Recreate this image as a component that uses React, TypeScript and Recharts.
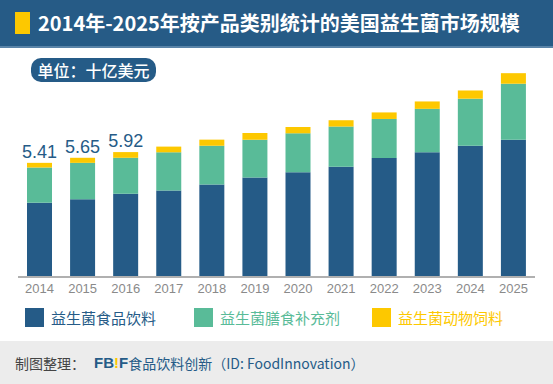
import React from "react";
import { BarChart, Bar, XAxis, YAxis, LabelList } from "recharts";

const YEARS = ["2014", "2015", "2016", "2017", "2018", "2019", "2020", "2021", "2022", "2023", "2024", "2025"];
const FOOD_BEV = [3.52, 3.69, 3.94, 4.1, 4.38, 4.72, 4.96, 5.23, 5.64, 5.91, 6.22, 6.51];
const SUPPLEMENTS = [1.67, 1.72, 1.71, 1.81, 1.84, 1.79, 1.85, 1.9, 1.85, 2.06, 2.23, 2.65];
const ANIMAL_FEED = [0.22, 0.24, 0.27, 0.27, 0.29, 0.32, 0.3, 0.3, 0.31, 0.35, 0.39, 0.5];
const TOTAL_LABELS = ["5.41", "5.65", "5.92", "", "", "", "", "", "", "", "", ""];

const SERIES = [
  { key: "food", name: "益生菌食品饮料", color: "#255b87" },
  { key: "supp", name: "益生菌膳食补充剂", color: "#59bb98" },
  { key: "feed", name: "益生菌动物饲料", color: "#fdc800" },
];

const data = YEARS.map((year, i) => ({
  year,
  food: FOOD_BEV[i],
  supp: SUPPLEMENTS[i],
  feed: ANIMAL_FEED[i],
  label: TOTAL_LABELS[i],
}));

const CJK = '"Noto Sans CJK SC", "Noto Sans", sans-serif';
const LATIN = '"Liberation Sans", Arial, sans-serif';

const renderTotal = (props: any) => {
  const { x, y, width, value } = props;
  if (!value) return null;
  return (
    <text x={x + width / 2} y={y - 5} textAnchor="middle" fontSize={18} fontFamily={LATIN} fill="#255b87">
      {value}
    </text>
  );
};

const LEGEND_GAPS = [0, 38, 32];

export default function App() {
  return (
    <div style={{ position: "fixed", left: 0, top: 0, width: 553, height: 384, background: "#fff", overflow: "hidden" }}>
      <div
        style={{
          position: "absolute",
          left: 0,
          top: 0,
          width: 553,
          height: 46,
          background: "#265b86",
          borderBottom: "2px solid #5a84a8",
        }}
      >
        <div style={{ position: "absolute", left: 15, top: 12, width: 15, height: 22, background: "#fdc800" }} />
        <div
          style={{
            position: "absolute",
            left: 38,
            top: 9,
            color: "#fff",
            fontSize: 20,
            fontWeight: 700,
            fontFamily: CJK,
            lineHeight: "28px",
            whiteSpace: "nowrap",
          }}
        >
          2014年-2025年按产品类别统计的美国益生菌市场规模
        </div>
      </div>

      <div
        style={{
          position: "absolute",
          left: 31,
          top: 58,
          width: 125,
          height: 24,
          borderRadius: 10,
          background: "#255b87",
          color: "#fff",
          fontSize: 16,
          fontWeight: 500,
          fontFamily: CJK,
          lineHeight: "24px",
          textAlign: "center",
          whiteSpace: "nowrap",
        }}
      >
        单位：十亿美元
      </div>

      <div style={{ position: "absolute", left: 0, top: 0 }}>
        <BarChart width={553} height={340} data={data} margin={{ top: 66, right: 18, bottom: 33, left: 18 }} barSize={25}>
          <XAxis
            dataKey="year"
            tickLine={false}
            tickSize={0}
            tickMargin={7}
            axisLine={{ stroke: "#b0b0b0", strokeWidth: 2 }}
            tick={{ fill: "#8a8a8a", fontSize: 13, fontFamily: LATIN }}
            interval={0}
            height={30}
          />
          <YAxis hide domain={[0, 10]} />
          {SERIES.map((s) => (
            <Bar key={s.key} dataKey={s.key} name={s.name} stackId="a" fill={s.color} isAnimationActive={false}>
              {s.key === "feed" && <LabelList dataKey="label" content={renderTotal} />}
            </Bar>
          ))}
        </BarChart>
      </div>

      <div style={{ position: "absolute", left: 25, top: 308, display: "flex", alignItems: "center" }}>
        {SERIES.map((s, i) => (
          <div key={s.key} style={{ display: "flex", alignItems: "center", marginLeft: LEGEND_GAPS[i] }}>
            <span style={{ width: 19, height: 19, background: s.color, display: "inline-block" }} />
            <span
              style={{ marginLeft: 7, fontSize: 15, fontFamily: CJK, color: s.color, lineHeight: "19px", whiteSpace: "nowrap" }}
            >
              {s.name}
            </span>
          </div>
        ))}
      </div>

      <div
        style={{
          position: "absolute",
          left: 0,
          top: 341,
          width: 553,
          height: 43,
          background: "#ececec",
          display: "flex",
          alignItems: "center",
          paddingLeft: 15,
          boxSizing: "border-box",
          fontFamily: CJK,
          fontSize: 14,
          whiteSpace: "nowrap",
        }}
      >
        <span style={{ color: "#444" }}>制图整理：</span>
        <span style={{ color: "#255b87", fontWeight: 700, fontFamily: LATIN, fontSize: 15, marginLeft: 9 }}>
          FB<span style={{ color: "#fdc800" }}>!</span>F
        </span>
        <span style={{ color: "#255b87" }}>食品饮料创新（ID: FoodInnovation）</span>
      </div>
    </div>
  );
}
